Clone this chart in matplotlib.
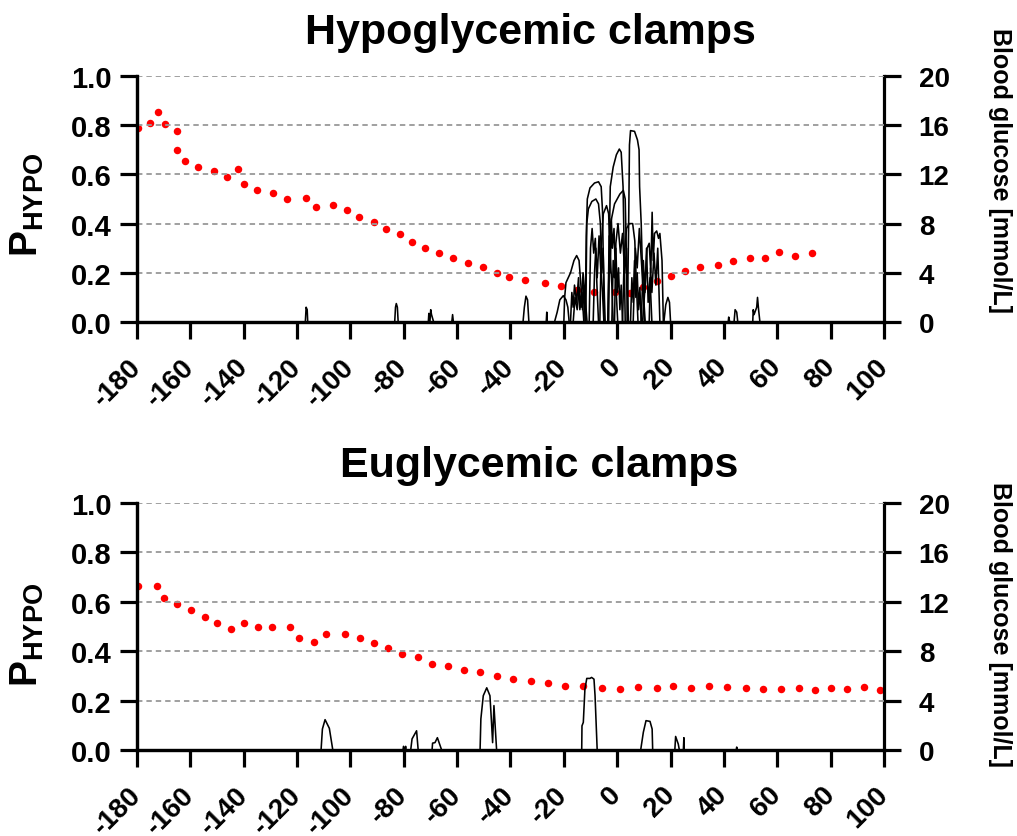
"""P_HYPO traces and blood glucose during hypo- and euglycemic clamps"""

import matplotlib
matplotlib.use("Agg")

import matplotlib.pyplot as plt

plt.rcParams["font.family"] = ["Liberation Sans", "DejaVu Sans"]
plt.rcParams["font.weight"] = "bold"
plt.rcParams["mathtext.fontset"] = "custom"
plt.rcParams["mathtext.bf"] = "Liberation Sans:bold"
plt.rcParams["mathtext.rm"] = "Liberation Sans:bold"

# ==========================================================
# DATA
# ==========================================================

x_ticks = list(range(-180, 101, 20))
p_ticks = [0.0, 0.2, 0.4, 0.6, 0.8, 1.0]
bg_ticks = [0, 4, 8, 12, 16, 20]

# mean blood glucose, hypoglycemic clamps
hypo_time = [-179.5, -175.1, -172.0, -169.6, -165.1, -165.0, -161.9, -157.0,
             -151.3, -146.4, -142.0, -140.0, -135.1, -129.1, -123.9, -116.8,
             -112.8, -106.4, -101.2, -96.9, -91.3, -86.7, -81.3, -77.0,
             -72.0, -66.7, -61.4, -56.1, -50.3, -45.2, -40.4, -34.5,
             -27.2, -21.2, -15.0, -8.7, -1.0, 4.9, 9.75, 15.0,
             20.0, 25.6, 31.1, 37.8, 43.5, 49.6, 55.5, 60.6, 66.6, 72.9]
hypo_glucose = [15.75, 16.2, 17.1, 16.1, 15.55, 14.0, 13.1, 12.6,
                12.3, 11.75, 12.4, 11.2, 10.75, 10.45, 10.0, 10.1,
                9.35, 9.5, 9.08, 8.5, 8.1, 7.55, 7.12, 6.5,
                6.0, 5.6, 5.2, 4.8, 4.45, 4.0, 3.66, 3.39,
                3.17, 2.93, 2.63, 2.41, 2.4, 2.36, 2.82, 3.33,
                3.74, 4.12, 4.5, 4.63, 4.93, 5.2, 5.18, 5.69, 5.34, 5.6]

# mean blood glucose, euglycemic clamps
eu_time = [-179.5, -172.6, -169.9, -164.9, -159.9, -154.5, -149.9, -144.9,
           -139.8, -134.8, -129.5, -122.5, -119.4, -113.7, -109.3, -102.2,
           -96.5, -91.2, -85.9, -80.8, -74.7, -69.5, -63.4, -57.6,
           -51.3, -45.2, -39.2, -32.3, -26.0, -19.6, -12.8, -5.7,
           1.15, 7.8, 14.8, 21.0, 27.5, 34.3, 41.2, 48.2,
           54.7, 61.3, 68.2, 74.1, 80.2, 86.1, 92.6, 98.5]
eu_glucose = [13.25, 13.25, 12.3, 11.85, 11.3, 10.8, 10.3, 9.8,
              10.3, 9.94, 10.0, 10.0, 9.1, 8.75, 9.4, 9.4,
              9.1, 8.7, 8.23, 7.77, 7.5, 6.99, 6.8, 6.5,
              6.29, 6.0, 5.72, 5.56, 5.4, 5.18, 5.18, 5.05,
              4.97, 5.1, 4.99, 5.18, 5.02, 5.15, 5.08, 5.05,
              4.91, 4.94, 5.02, 4.86, 5.05, 4.97, 5.13, 4.83]

# individual P_HYPO traces (time, probability), hypoglycemic clamps
hypo_traces = [
    ([-116.9, -116.6, -116.2, -116.0], [0, 0.06, 0.05, 0]),
    ([-83.4, -83.1, -82.8, -82.4, -82.1], [0, 0.06, 0.075, 0.06, 0]),
    ([-70.8, -70.6, -70.2, -69.9, -69.6, -68.8], [0, 0.035, 0.0, 0.05, 0.03, 0]),
    ([-62.0, -61.7, -61.4], [0, 0.03, 0]),
    ([-35.3, -34.8, -34.2, -33.6, -33.1], [0, 0.06, 0.105, 0.09, 0]),
    ([-26.6, -26.4, -26.2], [0, 0.04, 0]),
    ([-23.5, -22.5, -21.5, -20.2, -19.2, -18.5, -18.0], [0, 0.04, 0.09, 0.107, 0.09, 0.06, 0]),
    ([-20.0, -19.7, -19.2, -17.5, -16.2, -15.2, -14.3, -13.6, -13.0, -12.5, -12.0],
     [0, 0.10, 0.16, 0.20, 0.25, 0.27, 0.25, 0.15, 0.05, 0.15, 0]),
    ([-17.5, -17.0, -16.5, -16.0, -15.2, -14.5, -14.0, -13.2, -12.5],
     [0, 0.12, 0.06, 0.15, 0.08, 0.18, 0.05, 0.12, 0]),
    ([-16.5, -15.8, -15.0, -14.2, -13.5, -12.8, -12.0, -11.3],
     [0, 0.10, 0.05, 0.14, 0.06, 0.20, 0.10, 0]),
    ([-12.0, -11.6, -11.2, -10.2, -8.5, -7.0, -6.0, -5.5, -5.2, -4.9],
     [0, 0.35, 0.50, 0.545, 0.565, 0.57, 0.55, 0.45, 0.25, 0]),
    ([-11.8, -11.4, -10.8, -9.5, -8.0, -7.0, -6.3, -5.8, -5.3, -4.8, -4.5],
     [0, 0.40, 0.46, 0.49, 0.50, 0.48, 0.40, 0.20, 0.30, 0.10, 0]),
    ([-10.5, -10.0, -9.4, -8.8, -8.2, -7.6, -7.0],
     [0, 0.30, 0.38, 0.28, 0.34, 0.15, 0]),
    ([-9.0, -8.5, -8.0, -7.5, -6.8, -6.2, -5.5, -5.0],
     [0, 0.20, 0.30, 0.18, 0.35, 0.22, 0.12, 0]),
    ([-6.5, -6.0, -5.2, -4.0, -3.2, -2.8, -2.0, -1.5],
     [0, 0.30, 0.44, 0.473, 0.44, 0.30, 0.15, 0]),
    ([-3.2, -2.9, -2.6, -1.5, -0.3, 0.8, 1.5, 2.2, 2.6, 3.0],
     [0, 0.35, 0.55, 0.63, 0.68, 0.703, 0.69, 0.55, 0.30, 0]),
    ([-3.5, -3.0, -2.5, -1.0, 1.0, 2.3, 3.0, 3.4, 3.8],
     [0, 0.25, 0.40, 0.48, 0.52, 0.535, 0.50, 0.30, 0]),
    ([-3.5, -3.0, -2.6, -2.2, -1.8, -1.2, -0.5, 0.2],
     [0, 0.35, 0.20, 0.42, 0.30, 0.38, 0.15, 0]),
    ([-2.0, -1.5, -1.0, -0.5, 0.0, 0.5, 1.0, 1.5, 2.0],
     [0, 0.25, 0.18, 0.30, 0.12, 0.22, 0.05, 0.15, 0]),
    ([-1.0, -0.5, 0.3, 1.2, 2.0, 2.8, 3.5, 4.2],
     [0, 0.32, 0.40, 0.28, 0.36, 0.20, 0.30, 0]),
    ([2.0, 2.6, 3.5, 4.5, 5.8, 6.6, 7.2, 7.8],
     [0, 0.25, 0.38, 0.40, 0.40, 0.33, 0.15, 0]),
    ([3.8, 4.3, 4.6, 5.0, 6.5, 7.6, 8.2, 8.4, 9.0, 9.5, 10.2],
     [0, 0.40, 0.72, 0.778, 0.775, 0.74, 0.70, 0.55, 0.40, 0.20, 0]),
    ([5.0, 5.5, 6.0, 6.5, 7.0, 7.5, 8.0, 8.5, 9.0],
     [0, 0.18, 0.08, 0.25, 0.10, 0.20, 0.05, 0.14, 0]),
    ([6.0, 6.8, 7.5, 8.3, 9.0, 9.8, 10.5],
     [0, 0.30, 0.22, 0.38, 0.26, 0.12, 0]),
    ([9.0, 9.8, 10.4, 11.0, 11.6, 12.3, 13.0],
     [0, 0.25, 0.12, 0.30, 0.08, 0.18, 0]),
    ([9.5, 10.5, 11.2, 12.0, 12.6, 13.1, 13.5, 14.0, 14.8, 15.5, 16.0, 16.8, 17.3],
     [0, 0.15, 0.30, 0.32, 0.20, 0.446, 0.25, 0.36, 0.37, 0.34, 0.36, 0.25, 0]),
    ([12.0, 12.5, 13.0, 13.8, 14.5, 15.2, 16.0],
     [0, 0.22, 0.12, 0.28, 0.15, 0.30, 0]),
    ([17.5, 18.2, 19.0, 19.6, 20.0], [0, 0.07, 0.10, 0.08, 0]),
    ([41.6, 41.8, 42.2, 43.8, 44.2, 44.8, 45.2], [0, 0.02, 0, 0, 0.05, 0.04, 0]),
    ([50.8, 51.0, 51.3, 52.3, 52.6, 53.0, 53.5], [0, 0.05, 0.03, 0.06, 0.10, 0.05, 0]),
]

# individual P_HYPO traces (time, probability), euglycemic clamps
eu_traces = [
    ([-111.0, -110.5, -109.5, -107.9, -106.6], [0, 0.085, 0.123, 0.088, 0]),
    ([-80.3, -80.1, -79.6, -79.3, -79.1], [0, 0.015, 0.0, 0.015, 0]),
    ([-77.4, -76.9, -75.2, -74.6], [0, 0.045, 0.078, 0]),
    ([-69.4, -69.2, -68.3, -67.4, -65.8], [0, 0.028, 0.03, 0.05, 0]),
    ([-51.4, -51.1, -50.2, -48.9, -47.7, -47.1, -46.7, -46.2, -45.7, -45.2],
     [0, 0.126, 0.22, 0.252, 0.22, 0.11, 0.03, 0.18, 0.09, 0]),
    ([-13.3, -13.2, -12.7, -12.1, -11.4, -10.2, -9.6, -8.7, -8.3, -7.5],
     [0, 0.098, 0.112, 0.247, 0.29, 0.29, 0.294, 0.287, 0.22, 0]),
    ([8.8, 9.8, 10.8, 12.3, 13.1, 13.3], [0, 0.072, 0.119, 0.116, 0.085, 0]),
    ([21.6, 21.9, 22.9, 23.3], [0, 0.055, 0.024, 0]),
    ([24.8, 25.0, 25.1], [0, 0.05, 0]),
    ([44.6, 44.8, 45.0], [0, 0.012, 0]),
]

# ==========================================================
# FIGURE
# ==========================================================

fig = plt.figure(figsize=(10.17, 8.37), dpi=100, facecolor="white")

panels = [
    ([0.1347, 0.6141, 0.7345, 0.2939], "Hypoglycemic clamps", hypo_traces,
     hypo_time, hypo_glucose, 530, 44, 205, 170),
    ([0.1347, 0.1027, 0.7345, 0.2951], "Euglycemic clamps", eu_traces,
     eu_time, eu_glucose, 539, 477, 635, 625),
]

W, H = 1017.0, 837.0

for rect, title, traces, t_bg, bg, tx, ty, ly, ry in panels:

    ax = fig.add_axes(rect)
    ax2 = ax.twinx()

    # glucose dots behind the P_HYPO traces
    ax.set_zorder(ax2.get_zorder() + 1)
    ax.patch.set_visible(False)

    for xs, ps in traces:
        ax.plot(xs, ps, color="black", lw=1.15, solid_joinstyle="round")

    ax2.plot(t_bg, bg, "o", color="#ff0000", markersize=5.4,
             markeredgewidth=0)

    ax.set_xlim(-180, 100)
    ax.set_ylim(0, 1)
    ax2.set_ylim(0, 20)

    ax.set_xticks(x_ticks)
    ax.set_xticklabels([str(v) for v in x_ticks])
    ax.set_yticks(p_ticks)
    ax.set_yticklabels([f"{v:.1f}" for v in p_ticks])
    ax2.set_yticks(bg_ticks)
    ax2.set_yticklabels([str(v) for v in bg_ticks])

    ax.yaxis.grid(True, linestyle=(0, (3, 2.2)), color="#999999", lw=1.3)
    ax.set_axisbelow(True)

    for a in (ax, ax2):
        a.spines["top"].set_visible(False)
        for sp in ("left", "right", "bottom"):
            a.spines[sp].set_linewidth(2.3)
    ax.spines["right"].set_visible(False)

    ax.tick_params(axis="both", direction="out", length=12, width=2.3,
                   labelsize=21, pad=6)
    ax.tick_params(axis="x", labelsize=20, pad=17)
    ax2.tick_params(axis="y", direction="out", length=12, width=2.3,
                    labelsize=20, pad=13)

    for lab in ax.get_xticklabels():
        lab.set_rotation(45)
        lab.set_ha("right")
        lab.set_va("center")
        lab.set_rotation_mode("anchor")

    fig.text(tx / W, 1 - ty / H, title, fontsize=31, fontweight="bold",
             ha="center", va="baseline")

    fig.text(27 / W, 1 - ly / H, r"$\mathbf{P}_{\mathbf{HYPO}}$",
             rotation=90, fontsize=28, ha="center", va="center")

    fig.text(1000 / W, 1 - ry / H, "Blood glucose [mmol/L]",
             rotation=-90, fontsize=18, fontweight="bold",
             ha="center", va="center")

fig.savefig("out.png", dpi=100, facecolor="white")
plt.close()
